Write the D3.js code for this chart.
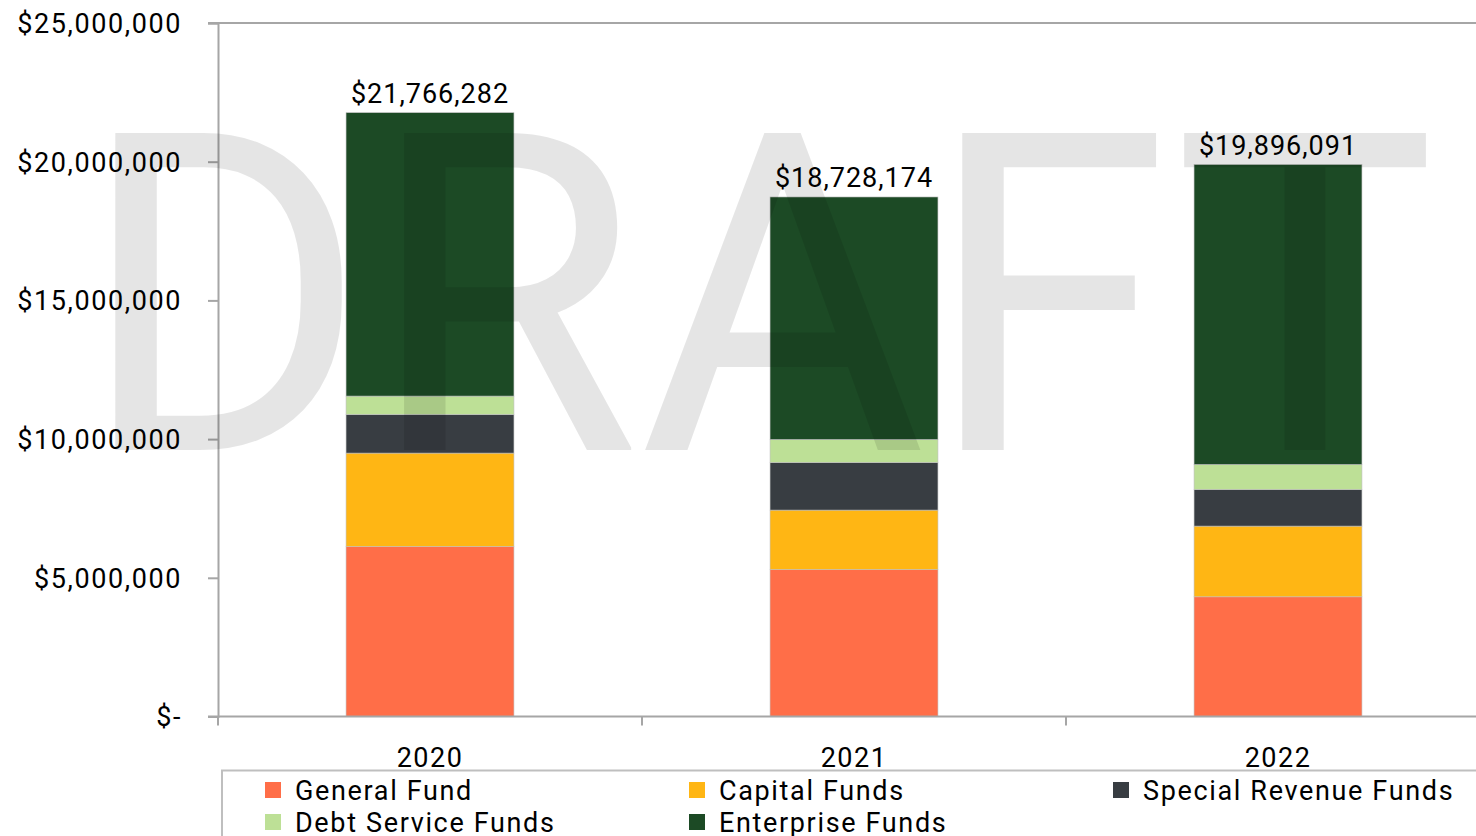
<!DOCTYPE html>
<html>
<head>
<meta charset="utf-8">
<script src="https://cdnjs.cloudflare.com/ajax/libs/d3/7.8.5/d3.min.js"></script>
<style>
  body { margin: 0; background: #fff; }
  svg { display: block; font-family: Roboto, "Noto Sans", sans-serif; }
</style>
</head>
<body>
<svg width="1476" height="836"></svg>
<script>
var svg = d3.select('svg');

// data
var years = ["2020", "2021", "2022"];
var funds = ["General Fund", "Capital Funds", "Special Revenue Funds", "Debt Service Funds", "Enterprise Funds"];
var colors = ["#FF6E48", "#FFB614", "#383D42", "#BDE096", "#1C4A25"];
var generalFund = [6128000, 5299000, 4315000];
var capitalFunds = [3368000, 2142000, 2549000];
var specialRevenue = [1391000, 1716000, 1319000];
var debtService = [664000, 829000, 902000];
var enterprise = [10215282, 8742174, 10811091];
var totals = [21766282, 18728174, 19896091];
var yTicks = [0, 5000000, 10000000, 15000000, 20000000, 25000000];

var series = [generalFund, capitalFunds, specialRevenue, debtService, enterprise];

var rows = years.map(function(y, i) {
  var r = { year: y };
  funds.forEach(function(f, k) { r[f] = series[k][i]; });
  return r;
});

var stack = d3.stack().keys(funds)(rows);

var x = d3.scaleBand().domain(years).range([218, 1490]).paddingInner(0.604).paddingOuter(0.302);
var y = d3.scaleLinear().domain([0, 25000000]).range([716.5, 23]);

var fmt = d3.format("$,.0f");
function tickFmt(d) { return d === 0 ? "$-" : fmt(d); }

// bars
svg.append('g').selectAll('g')
  .data(stack)
  .enter()
  .append('g')
  .attr('fill', function(d, i) { return colors[i]; })
  .selectAll('rect')
  .data(function(d) { return d; })
  .enter()
  .append('rect')
  .attr('x', function(d) { return x(d.data.year); })
  .attr('width', x.bandwidth())
  .attr('y', function(d) { return y(d[1]); })
  .attr('height', function(d) { return y(d[0]) - y(d[1]); })
  .attr('stroke', '#bfbfbf')
  .attr('stroke-width', 0.6);

// axes
var yAxis = svg.append('g')
  .attr('transform', 'translate(218,0)')
  .call(d3.axisLeft(y).tickValues(yTicks).tickFormat(tickFmt).tickSize(10).tickPadding(26));
yAxis.select('.domain').attr('stroke', '#a6a6a6').attr('stroke-width', 2);
yAxis.selectAll('.tick line').attr('stroke', '#a6a6a6').attr('stroke-width', 2);
yAxis.selectAll('.tick text')
  .attr('font-size', 27).attr('fill', '#000').attr('font-family', 'Roboto')
  .attr('letter-spacing', 1.6).attr('dy', '0.35em');

svg.append('line')
  .attr('x1', 208).attr('x2', 1476)
  .attr('y1', y(25000000)).attr('y2', y(25000000))
  .attr('stroke', '#a6a6a6').attr('stroke-width', 2);

var xAxis = svg.append('g')
  .attr('transform', 'translate(0,' + y(0) + ')')
  .call(d3.axisBottom(x).tickSize(0).tickPadding(31));
xAxis.select('.domain').remove();
xAxis.selectAll('.tick text')
  .attr('font-size', 27).attr('fill', '#000').attr('font-family', 'Roboto')
  .attr('letter-spacing', 1.5);

svg.append('line')
  .attr('x1', 208).attr('x2', 1476)
  .attr('y1', y(0)).attr('y2', y(0))
  .attr('stroke', '#a6a6a6').attr('stroke-width', 2);

var step = x.step();
svg.selectAll('.xsep')
  .data(years)
  .enter()
  .append('line')
  .attr('class', 'xsep')
  .attr('x1', function(d) { return x(d) - (step - x.bandwidth()) / 2; })
  .attr('x2', function(d) { return x(d) - (step - x.bandwidth()) / 2; })
  .attr('y1', y(0)).attr('y2', y(0) + 9)
  .attr('stroke', '#a6a6a6').attr('stroke-width', 2);

// watermark
svg.append('text')
  .attr('x', 79)
  .attr('y', 450)
  .attr('font-size', 446)
  .attr('font-family', 'Roboto')
  .attr('textLength', 1357)
  .attr('lengthAdjust', 'spacingAndGlyphs')
  .attr('fill', '#000')
  .attr('fill-opacity', 0.1)
  .text('DRAFT');

// total labels
svg.selectAll('.total')
  .data(years)
  .enter()
  .append('text')
  .attr('class', 'total')
  .attr('x', function(d) { return x(d) + x.bandwidth() / 2; })
  .attr('y', function(d, i) { return y(totals[i]) - 10; })
  .attr('text-anchor', 'middle')
  .attr('font-size', 27)
  .attr('letter-spacing', 1)
  .text(function(d, i) { return fmt(totals[i]); });

// legend
svg.append('rect')
  .attr('x', 222).attr('y', 770.5)
  .attr('width', 1300).attr('height', 100)
  .attr('fill', 'none')
  .attr('stroke', '#bfbfbf').attr('stroke-width', 2);

var legend = svg.selectAll('.leg')
  .data(funds)
  .enter()
  .append('g')
  .attr('class', 'leg')
  .attr('transform', function(d, i) {
    return 'translate(' + (265 + (i % 3) * 424) + ',' + (790 + Math.floor(i / 3) * 32) + ')';
  });

legend.append('rect')
  .attr('x', 0).attr('y', -8)
  .attr('width', 16).attr('height', 16)
  .attr('fill', function(d, i) { return colors[i]; });

legend.append('text')
  .attr('x', 30)
  .attr('y', 10)
  .attr('font-size', 27)
  .attr('letter-spacing', 1.65)
  .text(function(d) { return d; });
</script>
</body>
</html>
